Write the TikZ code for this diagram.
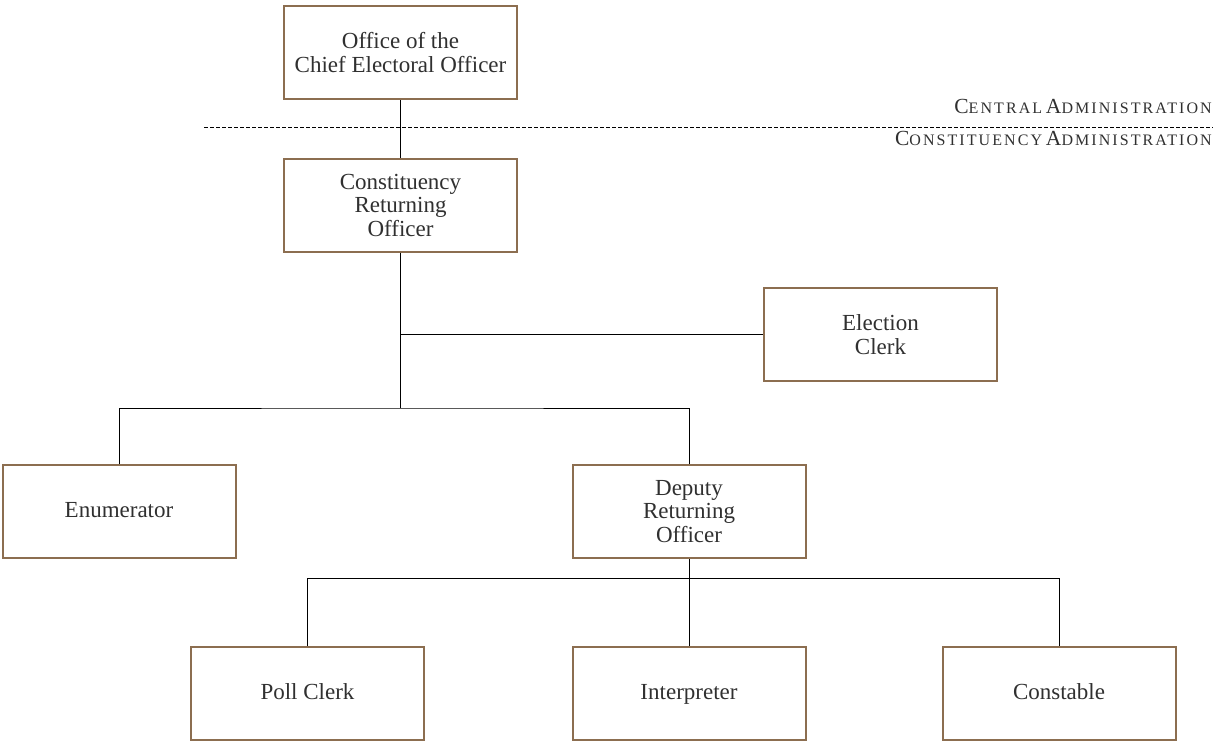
\documentclass[tikz,border=0pt]{standalone}
\usepackage{fontspec}
\setmainfont{Liberation Serif}
\newfontfamily\scfont[LetterSpace=13]{Liberation Serif}
\definecolor{boxbrown}{HTML}{8C6E50}
\definecolor{txt}{HTML}{303030}
\newcommand{\fsc}[2]{{\fontsize{21.5}{22}\selectfont #1}{\fontsize{16}{22}\selectfont\uppercase{#2}}}
\begin{document}
\begin{tikzpicture}[x=1pt,y=-1pt,
  orgbox/.style={draw=boxbrown,line width=2pt,minimum width=233pt,minimum height=93pt,
    inner sep=0pt,align=center,text=txt,font=\fontsize{23}{23.5}\selectfont},
  single/.style={text height=16pt,text depth=4pt},
  conn/.style={draw=black,line width=0.9pt},
  lvl/.style={anchor=base east,text=txt,inner sep=0pt,font=\scfont}]
\useasboundingbox (0,0) rectangle (1213,740);
\clip (0,0) rectangle (1213,740);
\node[orgbox] (ceo) at (400.5,52.5) {Office of the\\Chief Electoral Officer};
\node[orgbox] (cro) at (400.5,205) {Constituency\\Returning\\Officer};
\node[orgbox] (ec) at (880.5,334.5) {Election\\Clerk};
\node[orgbox,single] (enum) at (119,511.5) {Enumerator};
\node[orgbox] (dro) at (689,511.5) {Deputy\\Returning\\Officer};
\node[orgbox,single] (poll) at (307.5,693.5) {Poll Clerk};
\node[orgbox,single] (interp) at (689,693.5) {Interpreter};
\node[orgbox,single] (const) at (1059,693.5) {Constable};
\coordinate (j1) at (400.5,334.5);
\coordinate (j2) at (400.5,408);
\coordinate (j3) at (689,578);
\coordinate (dl) at (204,127);
\coordinate (dr) at (1213,127);
\draw[line width=0.8pt,dash pattern=on 3.5pt off 2.5pt] (dl) -- (dr);
\node[lvl] (ca) at (1212,113) {\fsc{C}{entral} \fsc{A}{dministration}};
\node[lvl] (coa) at (1212,145) {\fsc{C}{onstituency} \fsc{A}{dministration}};
\draw[conn] (ceo.south) -- (cro.north);
\draw[conn] (cro.south) -- (j2);
\draw[conn] (j1) -- (ec.west);
\draw[conn] (enum.north) |- (j2) -| (dro.north);
\draw[conn] (dro.south) -- (interp.north);
\draw[conn] (poll.north) |- (j3) -| (const.north);
\end{tikzpicture}
\end{document}
